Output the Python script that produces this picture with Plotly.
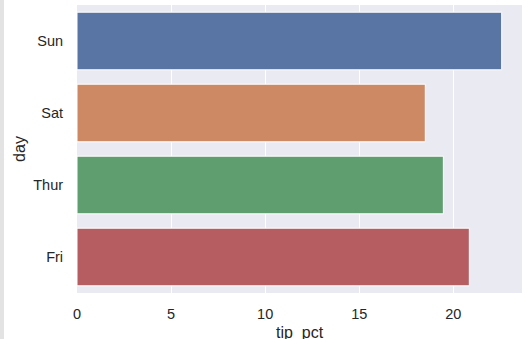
import plotly.graph_objects as go

days = ["Sun", "Sat", "Thur", "Fri"]
tip_pct = [22.57, 18.51, 19.47, 20.85]
colors = ["#5975A4", "#CC8963", "#5F9E6E", "#B55D60"]
x_ticks = [0, 5, 10, 15, 20]

W, H = 531, 339
L, R, T, B = 77, 9, 5, 46
pw = W - L - R
ph = H - T - B

fig = go.Figure()
fig.add_trace(go.Bar(
    x=tip_pct, y=days, orientation="h",
    marker=dict(color=colors, line=dict(color="white", width=1)),
    width=0.8,
))

tick_font = dict(family="Liberation Sans, Arial, sans-serif", size=14.5, color="#262626")
title_font = dict(family="Liberation Sans, Arial, sans-serif", size=16, color="#262626")
fig.update_layout(
    width=W, height=H,
    margin=dict(l=L, r=R, t=T, b=B, autoexpand=False),
    paper_bgcolor="white",
    plot_bgcolor="#EAEAF2",
    showlegend=False,
    font=tick_font,
    bargap=0.2,
    xaxis=dict(
        range=[0, 23.65], tickvals=x_ticks, ticktext=[str(v) for v in x_ticks],
        showgrid=True, gridcolor="white", gridwidth=1, zeroline=False,
        showline=False, ticks="outside", ticklen=8, tickcolor="rgba(0,0,0,0)",
        tickfont=tick_font, automargin=False,
    ),
    yaxis=dict(
        categoryorder="array", categoryarray=days, autorange=False,
        range=[3.5, -0.5],
        showgrid=False, zeroline=False, showline=False,
        ticks="outside", ticklen=10, tickcolor="rgba(0,0,0,0)",
        title=dict(text="day", standoff=3, font=title_font),
        tickfont=tick_font, automargin=False,
    ),
    annotations=[dict(text="tip_pct", xref="paper", yref="paper", x=0.5,
                      y=-(333 - (T + ph)) / ph, xanchor="center", yanchor="middle",
                      showarrow=False, font=title_font)],
    shapes=[dict(type="rect", xref="paper", yref="paper",
                 x0=-L / pw, x1=(4 - L) / pw, y0=-B / ph, y1=1 + T / ph,
                 fillcolor="#E3E3E3", line=dict(width=0), layer="below")],
)
fig.write_html("out.html")
